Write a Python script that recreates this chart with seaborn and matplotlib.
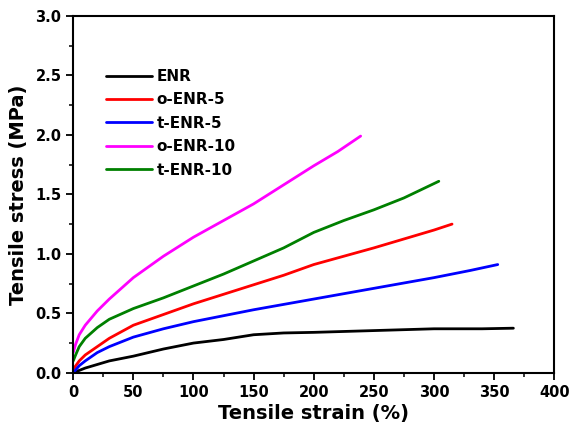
import matplotlib

matplotlib.use("Agg")
import matplotlib.pyplot as plt
import numpy as np
import pandas as pd
import seaborn as sns
from matplotlib.ticker import AutoMinorLocator

# data
enr_x = [0, 5, 10, 20, 30, 50, 75, 100, 125, 150, 175, 200, 250, 300, 340, 366]
enr_y = [0.0, 0.02, 0.04, 0.07, 0.10, 0.14, 0.20, 0.25, 0.28, 0.32, 0.335, 0.34, 0.355, 0.37, 0.37, 0.375]

o5_x = [0, 5, 10, 20, 30, 50, 75, 100, 125, 150, 175, 200, 250, 300, 315]
o5_y = [0.03, 0.10, 0.15, 0.22, 0.29, 0.40, 0.49, 0.58, 0.66, 0.74, 0.82, 0.91, 1.05, 1.20, 1.25]

t5_x = [0, 5, 10, 20, 30, 50, 75, 100, 125, 150, 200, 250, 300, 330, 353]
t5_y = [0.0, 0.06, 0.10, 0.17, 0.22, 0.30, 0.37, 0.43, 0.48, 0.53, 0.62, 0.71, 0.80, 0.86, 0.91]

o10_x = [0, 2, 5, 10, 20, 30, 50, 75, 100, 125, 150, 175, 200, 220, 239]
o10_y = [0.17, 0.24, 0.32, 0.40, 0.52, 0.62, 0.80, 0.98, 1.14, 1.28, 1.42, 1.58, 1.74, 1.86, 1.99]

t10_x = [0, 2, 5, 10, 20, 30, 50, 75, 100, 125, 150, 175, 200, 225, 250, 275, 304]
t10_y = [0.10, 0.15, 0.22, 0.29, 0.38, 0.45, 0.54, 0.63, 0.73, 0.83, 0.94, 1.05, 1.18, 1.28, 1.37, 1.47, 1.61]

samples = ["ENR", "o-ENR-5", "t-ENR-5", "o-ENR-10", "t-ENR-10"]
colors = ["#000000", "#ff0000", "#0000ff", "#ff00ff", "#008000"]

frames = []
for name, xs, ys in zip(samples, [enr_x, o5_x, t5_x, o10_x, t10_x],
                        [enr_y, o5_y, t5_y, o10_y, t10_y]):
    frames.append(pd.DataFrame({"strain": xs, "stress": ys, "sample": name}))
df = pd.concat(frames, ignore_index=True)

sns.set_style("ticks")
plt.rcParams["font.family"] = ["DejaVu Sans"]
plt.rcParams["font.weight"] = "bold"
for key in ["text.color", "axes.labelcolor", "xtick.color", "ytick.color"]:
    plt.rcParams[key] = "black"

fig = plt.figure(figsize=(5.72, 4.30), dpi=100)
ax = fig.add_axes([0.128, 0.133, 0.841, 0.830])
sns.lineplot(data=df, x="strain", y="stress", hue="sample", hue_order=samples,
             palette=colors, sort=False, estimator=None, linewidth=2.0, ax=ax)

ax.set_xlim(0, 400)
ax.set_ylim(0, 3.0)
ax.set_xticks(np.arange(0, 401, 50))
ax.set_yticks(np.arange(0, 3.01, 0.5))
ax.xaxis.set_minor_locator(AutoMinorLocator(2))
ax.yaxis.set_minor_locator(AutoMinorLocator(2))
ax.tick_params(which="major", direction="out", length=5, width=1.3, labelsize=10.5)
ax.tick_params(which="minor", direction="out", length=3, width=1.1)
for lab in ax.get_xticklabels() + ax.get_yticklabels():
    lab.set_fontweight("bold")
for sp in ax.spines.values():
    sp.set_visible(True)
    sp.set_linewidth(1.5)
    sp.set_color("black")

ax.set_xlabel("Tensile strain (%)", fontsize=14, fontweight="bold", labelpad=3)
ax.set_ylabel("Tensile stress (MPa)", fontsize=14, fontweight="bold", labelpad=5)

leg = ax.legend(frameon=False, loc="upper left", bbox_to_anchor=(0.04, 0.89),
                fontsize=11, handlelength=3.0, handletextpad=0.3, labelspacing=0.55)
for t in leg.get_texts():
    t.set_fontweight("bold")

fig.savefig("out.png", dpi=100)
